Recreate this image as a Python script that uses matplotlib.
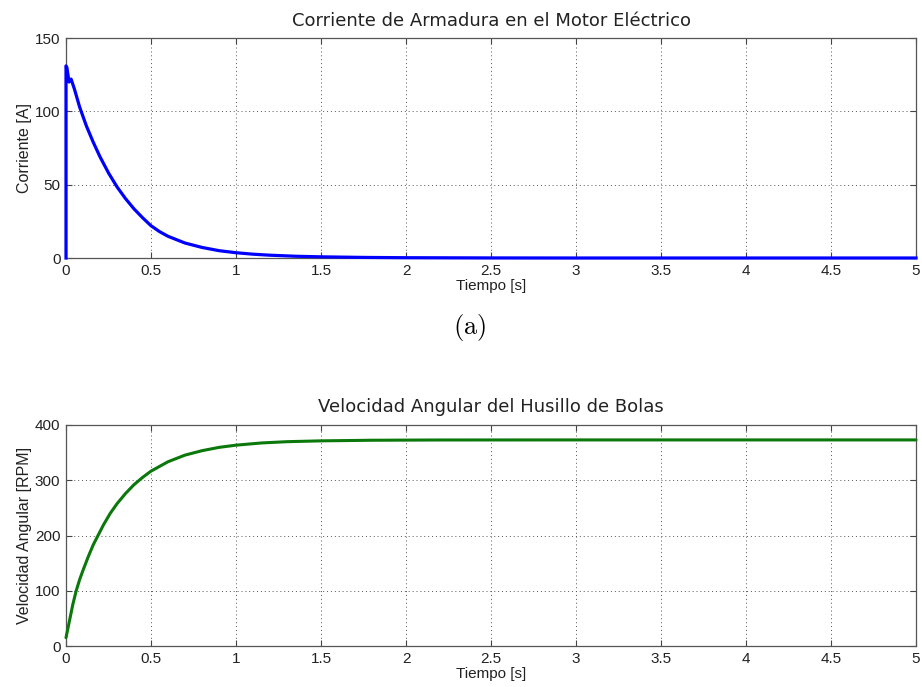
import matplotlib
matplotlib.use("Agg")
import matplotlib.pyplot as plt

plt.rcParams['font.family'] = ['Liberation Sans', 'DejaVu Sans']
plt.rcParams['mathtext.fontset'] = 'cm'

# Corriente de armadura
t_current = [0.0, 0.0, 0.005, 0.018, 0.03, 0.05, 0.08, 0.12, 0.16, 0.2, 0.25, 0.3,
             0.35, 0.4, 0.45, 0.5, 0.55, 0.6, 0.7, 0.8, 0.9, 1.0, 1.1, 1.2, 1.35,
             1.5, 1.75, 2.0, 2.5, 3.0, 5.0]
current = [0.0, 131.0, 130.0, 120.0, 122.0, 115.0, 103.0, 90.0, 79.0, 69.0, 58.0, 48.5,
           40.5, 33.5, 27.5, 22.0, 18.0, 14.8, 10.2, 7.2, 5.0, 3.6, 2.6, 1.9, 1.2,
           0.8, 0.4, 0.2, 0.05, 0.0, 0.0]

# Velocidad angular del husillo
t_speed = [0.0, 0.02, 0.04, 0.06, 0.08, 0.1, 0.13, 0.16, 0.19, 0.22, 0.26, 0.3, 0.35,
           0.4, 0.45, 0.5, 0.6, 0.7, 0.8, 0.9, 1.0, 1.15, 1.3, 1.5, 1.8, 2.2, 3.0, 5.0]
speed = [15.0, 45.0, 75.0, 100.0, 120.0, 137.0, 161.0, 183.0, 201.0, 219.0, 240.0,
         257.5, 276.0, 292.0, 305.0, 316.5, 333.5, 345.5, 353.5, 359.5, 363.5, 367.5,
         369.8, 371.3, 372.4, 372.9, 373.0, 373.0]

xticks = [0, 0.5, 1, 1.5, 2, 2.5, 3, 3.5, 4, 4.5, 5]
xticklabels = ['0', '0.5', '1', '1.5', '2', '2.5', '3', '3.5', '4', '4.5', '5']


def style_axes(ax, title, ylabel, ylim, yticks):
    ax.set_xlim(0, 5)
    ax.set_ylim(*ylim)
    ax.set_xticks(xticks)
    ax.set_xticklabels(xticklabels)
    ax.set_yticks(yticks)
    ax.grid(True, linestyle=(0, (1, 3)), color='#555555', linewidth=0.7)
    ax.tick_params(direction='in', top=True, right=True, labelsize=11, pad=4,
                   length=4, color='#444444', labelcolor='#222222')
    for s in ax.spines.values():
        s.set_color('#555555')
        s.set_linewidth(0.9)
    ax.set_title(title, fontsize=13, pad=9, family=['DejaVu Sans'], color='#222222')
    ax.set_xlabel('Tiempo [s]', fontsize=11, labelpad=1, color='#222222')
    ax.set_ylabel(ylabel, fontsize=11.5, labelpad=2, color='#222222')


fig = plt.figure(figsize=(9.22, 6.87), dpi=100)
ax1 = fig.add_axes([66 / 922, 1 - 258 / 687, 850 / 922, 220 / 687])
ax2 = fig.add_axes([66 / 922, 1 - 646 / 687, 850 / 922, 221 / 687])

ax1.plot(t_current, current, color='#0000ff', linewidth=2.3, solid_joinstyle='round',
         clip_on=False, zorder=3)
style_axes(ax1, 'Corriente de Armadura en el Motor Eléctrico', 'Corriente [A]',
           (0, 150), [0, 50, 100, 150])

ax2.plot(t_speed, speed, color='#0a780a', linewidth=2.2, solid_capstyle='round',
         clip_on=False, zorder=3)
style_axes(ax2, 'Velocidad Angular del Husillo de Bolas', 'Velocidad Angular [RPM]',
           (0, 400), [0, 100, 200, 300, 400])

fig.text(470 / 922, 1 - 328 / 687, r'$\mathrm{(a)}$', ha='center', va='center', fontsize=19)

fig.savefig('out.png', dpi=100)
